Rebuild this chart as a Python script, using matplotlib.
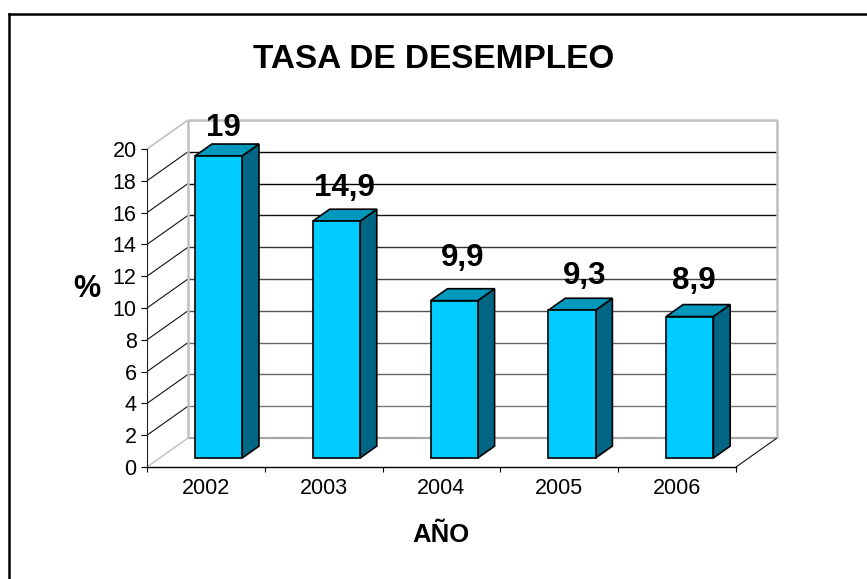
import matplotlib
matplotlib.use('Agg')
import matplotlib.pyplot as plt
from matplotlib.lines import Line2D
from matplotlib.patches import Polygon

plt.rcParams['font.family'] = ['Liberation Sans', 'DejaVu Sans']

# data
years = ['2002', '2003', '2004', '2005', '2006']
values = [19, 14.9, 9.9, 9.3, 8.9]
value_labels = ['19', '14,9', '9,9', '9,3', '8,9']
y_ticks = [0, 2, 4, 6, 8, 10, 12, 14, 16, 18, 20]

# label nudges in pixels, the original labels are not placed regularly
label_dx = [5, 8, 8, 13, 4]
label_dy = [13, 18, 28, 19, 20]

# grey level of each back wall line, from 2 up to 18
grid_colors = ['#777777', '#666666', '#666666', '#555555', '#444444',
               '#333333', '#111111', '#000000', '#000000']

W, H = 867, 579
fig = plt.figure(figsize=(W / 100, H / 100), dpi=100, facecolor='white')

# front plane of the fake 3d box
left, right, top, bottom = 147, 736, 149, 467
ax = fig.add_axes([left / W, 1 - bottom / H, (right - left) / W, (bottom - top) / H])
ax.set_xlim(0, 5)
ax.set_ylim(0, 20)
ax.patch.set_visible(False)

# depth of the box, 41 px right and 29 px up, in data units
depth_x = 41 * 5 / (right - left)
depth_y = 29 * 20 / (bottom - top)
wall = '#C0C0C0'


def pt(x, y, d):
    return x + d * depth_x, y + d * depth_y


def line3d(p0, p1, color, lw, z=1):
    ax.plot([p0[0], p1[0]], [p0[1], p1[1]], color=color, lw=lw, zorder=z,
            clip_on=False, solid_capstyle='butt')


# back wall
for t, c in zip(y_ticks[1:-1], grid_colors):
    line3d(pt(0, t, 1), pt(5, t, 1), c, 1.0)
    line3d(pt(0, t, 0), pt(0, t, 1), '#111111', 0.8)
line3d(pt(0, 0, 1), pt(5, 0, 1), '#A6A6A6', 1.6)
line3d(pt(0, 20, 1), pt(5, 20, 1), wall, 1.8)
line3d(pt(0, 0, 1), pt(0, 20, 1), wall, 1.8)
line3d(pt(5, 0, 1), pt(5, 20, 1), wall, 1.8)
line3d(pt(0, 0, 0), pt(0, 0, 1), wall, 1.0)
line3d(pt(0, 20, 0), pt(0, 20, 1), wall, 1.2)
line3d(pt(5, 0, 0), pt(5, 0, 1), '#111111', 0.8)

# bars, front face sits 0.31 into the box and the back 0.72
front = 0.31
back = 0.72
bar_w = 0.4
xs = [i + 0.5 for i in range(len(years))]
x_off, y_off = pt(0, 0, front)
bars = ax.bar([x + x_off for x in xs], values, width=bar_w, bottom=y_off,
              color='#00CCFF', edgecolor='black', linewidth=1.2, zorder=4,
              clip_on=False)

for x, v in zip(xs, values):
    x0 = x - bar_w / 2
    x1 = x + bar_w / 2
    side = [pt(x1, 0, front), pt(x1, 0, back), pt(x1, v, back), pt(x1, v, front)]
    roof = [pt(x0, v, front), pt(x0, v, back), pt(x1, v, back), pt(x1, v, front)]
    ax.add_patch(Polygon(side, closed=True, fc='#006683', ec='black', lw=1.2,
                         zorder=3, clip_on=False))
    ax.add_patch(Polygon(roof, closed=True, fc='#0099BD', ec='black', lw=1.2,
                         zorder=3, clip_on=False))

# value labels go under the bar tops like the original
for x, v, s, dx, dy in zip(xs, values, value_labels, label_dx, label_dy):
    ax.annotate(s, pt(x, v, front), xytext=(dx, dy), textcoords='offset pixels',
                ha='center', va='bottom', fontsize=22.5, fontweight='bold',
                color='black', zorder=2, annotation_clip=False)

# axes
for s in ['top', 'right']:
    ax.spines[s].set_visible(False)
ax.spines['left'].set_color('#222222')
ax.spines['bottom'].set_color('black')
ax.spines['left'].set_linewidth(0.8)
ax.spines['bottom'].set_linewidth(1.0)
ax.set_yticks(y_ticks)
ax.tick_params(axis='y', labelsize=15.5, length=4.5, width=0.8, pad=3)
ax.set_xticks(range(6))
ax.set_xticklabels([])
ax.set_xticks(xs, minor=True)
ax.set_xticklabels(years, minor=True, fontsize=15.5)
ax.tick_params(axis='x', which='major', length=3.5, width=0.8)
ax.tick_params(axis='x', which='minor', length=0, pad=8)

# titles
fig.text(434 / W, 1 - 60 / H, 'TASA DE DESEMPLEO', ha='center', va='center',
         fontsize=24, fontweight='bold')
fig.text(87 / W, 1 - 289 / H, '%', ha='center', va='center', fontsize=22,
         fontweight='bold')
fig.text(441 / W, 1 - 535 / H, 'AÑO', ha='center', va='center', fontsize=18.5,
         fontweight='bold')

# chart border only shows on top and left
fig.add_artist(Line2D([9 / W, 1], [1 - 14 / H, 1 - 14 / H], color='black', lw=1.8,
                      transform=fig.transFigure))
fig.add_artist(Line2D([9 / W, 9 / W], [0, 1 - 14 / H], color='black', lw=1.8,
                      transform=fig.transFigure))

fig.savefig('out.png', dpi=100, facecolor='white')
